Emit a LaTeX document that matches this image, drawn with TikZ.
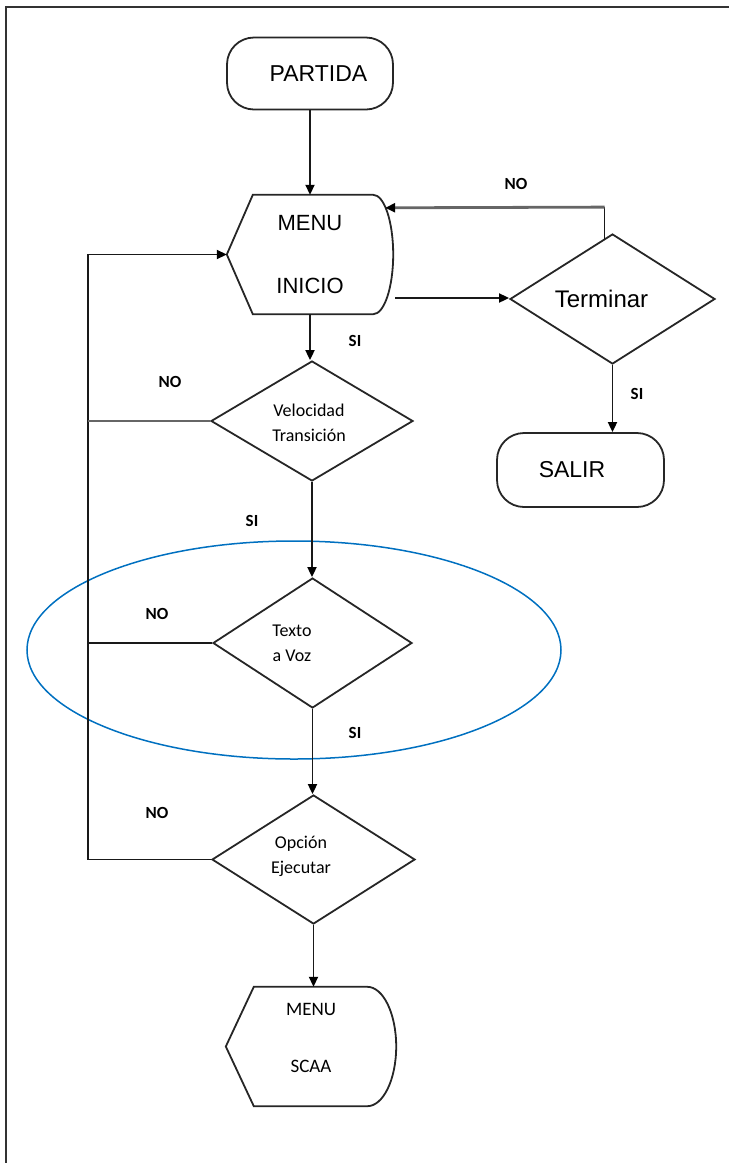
\documentclass[tikz,border=0pt]{standalone}
\usepackage{fontspec}
\setmainfont{Liberation Sans}
\newfontfamily\lblfont{Carlito}
\usetikzlibrary{shapes.geometric,arrows.meta,calc}
\definecolor{ringblue}{RGB}{0,112,192}

\begin{document}
\begin{tikzpicture}[x=1pt,y=-1pt,
  outline/.style={draw=black!85, line width=1.8pt},
  flow/.style={draw=black!90, line width=1.8pt},
  flowgray/.style={draw=black!60, line width=2.8pt},
  tip/.style={-{Triangle[length=10pt,width=9pt,color=black]}},
  terminal/.style={outline, rectangle, rounded corners=27pt, minimum height=72pt,
    inner sep=0pt, font=\fontsize{23}{26}\selectfont},
  decision/.style={outline, diamond, aspect=1.6, inner sep=0pt},
  display/.style={rectangle, inner sep=0pt, minimum height=119pt, align=center},
  cond/.style={font=\lblfont\fontsize{18}{25}\selectfont, align=center, inner sep=0pt},
  answer/.style={font=\lblfont\bfseries\fontsize{17}{17}\selectfont, inner sep=0pt},
]
\useasboundingbox (0,0) rectangle (729,1163);

% page frame (left and top edges)
\draw[line width=1.8pt, black!80] (6,1163) -- (6,7) -- (729,7);

% highlight ring around the text-to-speech decision
\node[draw=ringblue, line width=1.5pt, ellipse, minimum width=534pt,
      minimum height=218pt, inner sep=0pt] (focus) at (294,650) {};

% start / end
\node[terminal, minimum width=166pt] (partida) at (310,73.5) {\hspace*{17pt}PARTIDA};
\node[terminal, minimum width=167pt, minimum height=74pt] (salir) at (580.5,470) {SALIR\hspace*{17pt}};

% main menu (display shape)
\node[display, minimum width=166pt, font=\fontsize{22}{63}\selectfont] (menu) at (310,254.5) {MENU\\INICIO};
\draw[outline] (menu.west) -- ($(menu.north west)+(26,0)$) -- ($(menu.north east)+(-20,0)$)
  .. controls ($(menu.north east)+(-9,0)$) and ($(menu.east)+(0,-33)$) .. (menu.east)
  .. controls ($(menu.east)+(0,33)$) and ($(menu.south east)+(-9,0)$) .. ($(menu.south east)+(-20,0)$)
  -- ($(menu.south west)+(26,0)$) -- cycle;

% SCAA menu (display shape)
\node[display, minimum width=170pt] (scaa) at (311,1046.5) {};
\draw[outline] (scaa.west) -- ($(scaa.north west)+(28,0)$) -- ($(scaa.north east)+(-29,0)$)
  .. controls ($(scaa.north east)+(-13,0)$) and ($(scaa.east)+(0,-33)$) .. (scaa.east)
  .. controls ($(scaa.east)+(0,33)$) and ($(scaa.south east)+(-13,0)$) .. ($(scaa.south east)+(-29,0)$)
  -- ($(scaa.south west)+(28,0)$) -- cycle;
\node[font=\lblfont\fontsize{19}{57}\selectfont, align=center, inner sep=0pt] (scaaTxt) at (311,1037.5) {MENU\\SCAA};

% decisions
\node[decision, minimum width=205pt, minimum height=130pt, font=\fontsize{24}{26}\selectfont]
  (terminar) at (612.5,299) {Terminar\hspace*{22pt}};
\node[decision, minimum width=202pt, minimum height=120pt] (velocidad) at (312,421) {};
\node[cond] (velocidadTxt) at (309,423) {Velocidad\\Transición};
\node[decision, minimum width=199pt, minimum height=130pt] (texto) at (312.5,643) {};
\node[cond] (textoTxt) at (292,643) {Texto\\a Voz};
\node[decision, minimum width=203pt, minimum height=129pt] (opcion) at (313.5,859.5) {};
\node[cond] (opcionTxt) at (301,856) {Opción\\Ejecutar};

% main flow
\draw[flow, tip] (partida.south) -- (partida.south |- menu.north);
\draw[flow, tip] (menu.south) -- (menu.south |- velocidad.north);
\draw[flow, tip] (velocidad.south) -- (velocidad.south |- texto.north);
\draw[flow, tip] (texto.south) -- (texto.south |- opcion.north);
\draw[flow, tip] (opcion.south) -- (opcion.south |- scaa.north);

% exit branch
\coordinate (toTerm) at ($(menu.east)+(2,43.5)$);
\draw[flow, tip] (toTerm) -- (toTerm -| terminar.west);
\draw[flow, tip] (terminar.south) -- (terminar.south |- salir.north);
\coordinate (termTop) at ($(terminar.north)+(-8,6)$);
\coordinate (backCorner) at ($(termTop)+(0,-32)$);
\coordinate (menuBack) at ($(menu.north east)+(-8,13)$);
\draw[flow] (termTop) -- (backCorner);
\draw[flowgray, tip] (backCorner) -- (menuBack);

% return loop on the left
\coordinate (loop) at ($(menu.west)+(-139,0)$);
\draw[flow, tip] (opcion.west) -| (loop) -- (menu.west);
\draw[flowgray] (velocidad.west) -- (velocidad.west -| loop);
\draw[flow] (texto.west) -- (texto.west -| loop);

% branch labels
\node[answer] (noTerm) at (516,184) {NO};
\node[answer] (siTerm) at (637,394) {SI};
\node[answer] (siMenu) at (355,341) {SI};
\node[answer] (noVel) at (170,382) {NO};
\node[answer] (siVel) at (252,521) {SI};
\node[answer] (noTexto) at (157,614) {NO};
\node[answer] (siTexto) at (355,733) {SI};
\node[answer] (noOpcion) at (157,813) {NO};
\end{tikzpicture}
\end{document}
